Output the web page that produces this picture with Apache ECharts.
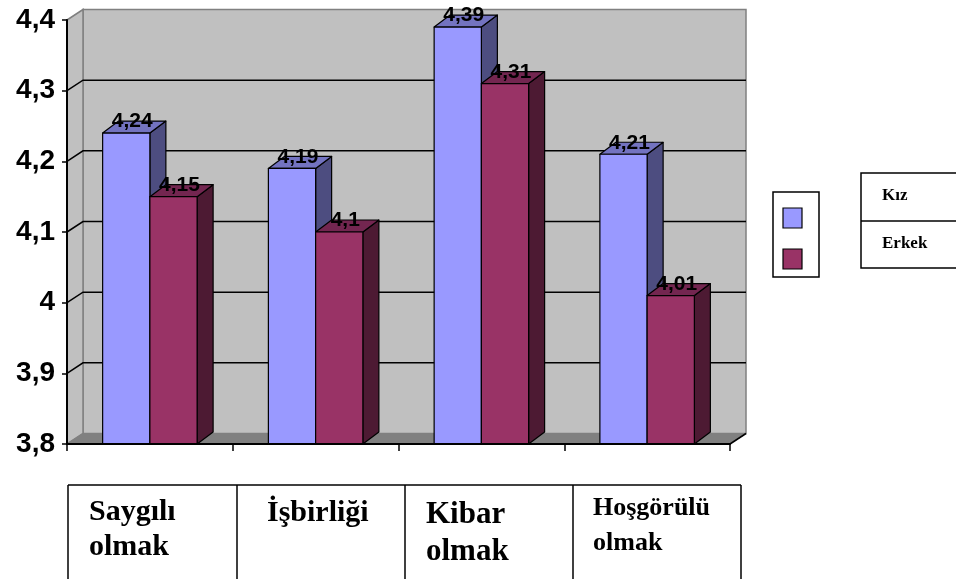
<!DOCTYPE html>
<html>
<head>
<meta charset="utf-8">
<script src="https://cdn.jsdelivr.net/npm/echarts@6/dist/echarts.min.js"></script>
<style>
  html, body { margin: 0; padding: 0; background: #ffffff; }
  #chart { width: 956px; height: 579px; }
</style>
</head>
<body>
<div id="chart"></div>
<script>
// Categories and series values
const categories = ['Saygılı\nolmak', 'İşbirliği', 'Kibar\nolmak', 'Hoşgörülü\nolmak'];
const seriesNames = ['Kız', 'Erkek'];
const kizValues = [4.24, 4.19, 4.39, 4.21];
const erkekValues = [4.15, 4.10, 4.31, 4.01];
const yTicks = [3.8, 3.9, 4.0, 4.1, 4.2, 4.3, 4.4];
const yTickLabels = ['3,8', '3,9', '4', '4,1', '4,2', '4,3', '4,4'];

// Look of the pseudo-3D bars: front, side, top faces
const palette = [
  { front: '#9999ff', side: '#4d4d80', top: '#7373c0' },
  { front: '#993366', side: '#4d1a33', top: '#732650' }
];
const WALL_DX = 16, WALL_DY = -10.5; // depth of the back wall
const BAR_DX = 16, BAR_DY = -12;     // depth of each bar
const BAR_FRACTION = 0.285;          // bar width relative to the category band

// Category table cells under the plot: left edge, text offset, font
const cellLayout = [
  { x: 68,  tx: 89,  ty: 495, size: 30, lh: 35 },
  { x: 237, tx: 267, ty: 496, size: 30, lh: 35 },
  { x: 405, tx: 426, ty: 496, size: 31, lh: 37 },
  { x: 573, tx: 593, ty: 491, size: 26, lh: 35 }
];
const tableRight = 741, tableTop = 485;

const fmt = v => String(+v.toFixed(2)).replace('.', ',');

// Back wall, side wall, floor and the receding gridlines
function renderWalls(params, api) {
  const cs = params.coordSys;
  const x0 = cs.x, x1 = cs.x + cs.width, y0 = cs.y, y1 = cs.y + cs.height;
  const children = [
    { type: 'rect', shape: { x: x0 + WALL_DX, y: y0 + WALL_DY, width: cs.width, height: cs.height },
      style: { fill: '#c0c0c0', stroke: '#808080', lineWidth: 1.5 } },
    { type: 'polygon', shape: { points: [[x0, y0], [x0 + WALL_DX, y0 + WALL_DY], [x0 + WALL_DX, y1 + WALL_DY], [x0, y1]] },
      style: { fill: '#c0c0c0', stroke: '#808080', lineWidth: 1.5 } },
    { type: 'polygon', shape: { points: [[x0, y1], [x0 + WALL_DX, y1 + WALL_DY], [x1 + WALL_DX, y1 + WALL_DY], [x1, y1]] },
      style: { fill: '#808080', stroke: '#808080', lineWidth: 1 } },
    { type: 'line', shape: { x1: x1, y1: y1, x2: x1 + WALL_DX, y2: y1 + WALL_DY },
      style: { stroke: '#000', lineWidth: 1.5 } }
  ];
  yTicks.forEach((v, i) => {
    if (i === 0 || i === yTicks.length - 1) return;
    const y = api.coord([0, v])[1];
    children.push({
      type: 'polyline',
      shape: { points: [[x0, y], [x0 + WALL_DX, y + WALL_DY], [x1 + WALL_DX, y + WALL_DY]] },
      style: { stroke: '#000', lineWidth: 1.5, fill: null }
    });
  });
  return { type: 'group', children };
}

function makeBarRenderer(idx) {
  const col = palette[idx];
  return function (params, api) {
    const ci = api.value(0), v = api.value(1);
    const band = api.size([1, 0])[0];
    const w = band * BAR_FRACTION;
    const top = api.coord([ci, v]);
    const base = api.coord([ci, yTicks[0]]);
    const x0 = idx === 0 ? top[0] - w : top[0];
    const x1 = x0 + w;
    const yt = top[1], yb = base[1];
    const line = { stroke: '#000', lineWidth: 1.2, lineJoin: 'round' };
    return {
      type: 'group',
      children: [
        { type: 'polygon', shape: { points: [[x1, yt], [x1 + BAR_DX, yt + BAR_DY], [x1 + BAR_DX, yb + BAR_DY], [x1, yb]] },
          style: Object.assign({ fill: col.side }, line) },
        { type: 'polygon', shape: { points: [[x0, yt], [x0 + BAR_DX, yt + BAR_DY], [x1 + BAR_DX, yt + BAR_DY], [x1, yt]] },
          style: Object.assign({ fill: col.top }, line) },
        { type: 'rect', shape: { x: x0, y: yt, width: w, height: yb - yt },
          style: Object.assign({ fill: col.front }, line) },
        { type: 'text', z2: 10,
          style: { text: fmt(v), x: (x0 + x1) / 2 + 6, y: yt - 11.5, align: 'center', verticalAlign: 'middle',
                   font: 'bold 21px "Liberation Sans", Arial, sans-serif', fill: '#000' } }
      ]
    };
  };
}

const graphics = [];
// Legend: colour keys box
graphics.push({ type: 'rect', shape: { x: 773, y: 192, width: 46, height: 85 },
  style: { fill: '#fff', stroke: '#000', lineWidth: 1.5 } });
graphics.push({ type: 'rect', shape: { x: 783, y: 208, width: 19, height: 20 },
  style: { fill: palette[0].front, stroke: '#000', lineWidth: 1.2 } });
graphics.push({ type: 'rect', shape: { x: 783, y: 249, width: 19, height: 20 },
  style: { fill: palette[1].front, stroke: '#000', lineWidth: 1.2 } });
// Legend: names table
graphics.push({ type: 'polyline', shape: { points: [[956, 173], [861, 173], [861, 268], [956, 268]] },
  style: { stroke: '#000', lineWidth: 1.5, fill: null } });
graphics.push({ type: 'line', shape: { x1: 861, y1: 221, x2: 956, y2: 221 },
  style: { stroke: '#000', lineWidth: 1.5 } });
seriesNames.forEach((n, i) => {
  graphics.push({ type: 'text', style: { text: n, x: 882, y: 196 + i * 48, verticalAlign: 'middle',
    font: 'bold 17px "Liberation Serif", "Times New Roman", serif', fill: '#000' } });
});
// Category table
graphics.push({ type: 'line', shape: { x1: cellLayout[0].x, y1: tableTop, x2: tableRight, y2: tableTop },
  style: { stroke: '#000', lineWidth: 1.5 } });
cellLayout.forEach((c, i) => {
  graphics.push({ type: 'line', shape: { x1: c.x, y1: tableTop, x2: c.x, y2: 579 },
    style: { stroke: '#000', lineWidth: 1.5 } });
  graphics.push({ type: 'text', style: { text: categories[i], x: c.tx, y: c.ty, verticalAlign: 'top',
    lineHeight: c.lh, font: 'bold ' + c.size + 'px "Liberation Serif", "Times New Roman", serif', fill: '#000' } });
});
graphics.push({ type: 'line', shape: { x1: tableRight, y1: tableTop, x2: tableRight, y2: 579 },
  style: { stroke: '#000', lineWidth: 1.5 } });

const chart = echarts.init(document.getElementById('chart'), null, { renderer: 'canvas' });
chart.setOption({
  animation: false,
  backgroundColor: '#ffffff',
  grid: { left: 67, top: 20, right: 226, bottom: 135, containLabel: false },
  xAxis: {
    type: 'category', data: categories, boundaryGap: true, z: 10,
    axisLine: { show: true, onZero: false, lineStyle: { color: '#000', width: 2 } },
    axisTick: { show: true, length: 7, lineStyle: { color: '#000', width: 1.5 } },
    axisLabel: { show: false },
    splitLine: { show: false }
  },
  yAxis: {
    type: 'value', min: yTicks[0], max: yTicks[yTicks.length - 1], interval: 0.1, z: 10,
    axisLine: { show: true, lineStyle: { color: '#000', width: 2 } },
    axisTick: { show: true, length: 5, lineStyle: { color: '#000', width: 1.5 } },
    splitLine: { show: false },
    axisLabel: {
      margin: 12, color: '#000', fontSize: 28, fontWeight: 'bold',
      fontFamily: '"Liberation Sans", Arial, sans-serif',
      formatter: (v, i) => yTickLabels[i]
    }
  },
  series: [
    { type: 'custom', name: 'walls', z: 1, silent: true, renderItem: renderWalls, data: [[0, yTicks[0]]] },
    { type: 'custom', name: seriesNames[0], z: 3, renderItem: makeBarRenderer(0),
      data: kizValues.map((v, i) => [i, v]) },
    { type: 'custom', name: seriesNames[1], z: 4, renderItem: makeBarRenderer(1),
      data: erkekValues.map((v, i) => [i, v]) }
  ],
  graphic: graphics
});
</script>
</body>
</html>
